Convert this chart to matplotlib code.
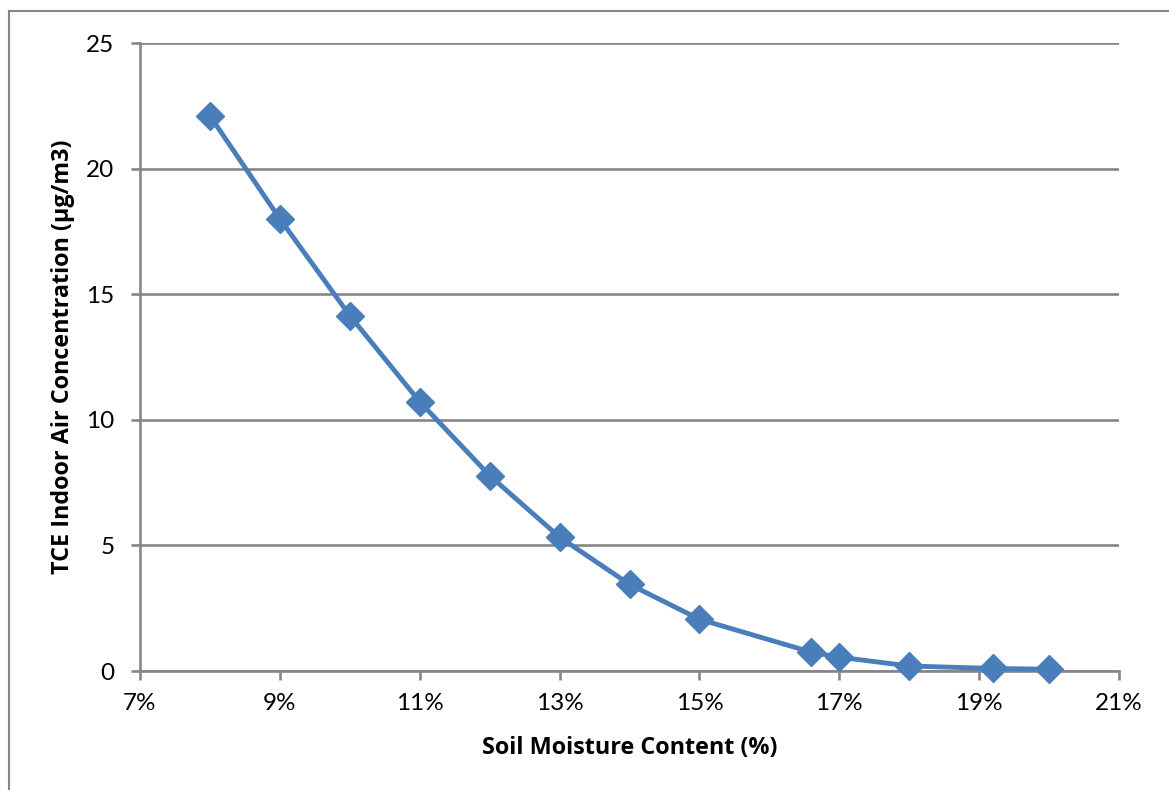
import matplotlib
matplotlib.use("Agg")
import matplotlib.pyplot as plt
from matplotlib.lines import Line2D
from matplotlib.ticker import FuncFormatter

plt.rcParams['font.family'] = ['Lato', 'DejaVu Sans']

# soil moisture (%) vs TCE indoor air concentration (ug/m3)
moisture = [8, 9, 10, 11, 12, 13, 14, 15, 16.6, 17, 18, 19.2, 20]
tce = [22.1, 18.0, 14.15, 10.72, 7.78, 5.33, 3.45, 2.06, 0.75, 0.55, 0.2, 0.1, 0.07]

x_ticks = [7, 9, 11, 13, 15, 17, 19, 21]
y_ticks = [0, 5, 10, 15, 20, 25]

gray = '#868686'
blue = '#4A7EBB'

fig = plt.figure(figsize=(11.69, 7.9), dpi=100)
ax = fig.add_axes([140 / 1169, 1 - 671 / 790, (1119 - 140) / 1169, (671 - 43) / 790])

ax.plot(moisture, tce, color=blue, lw=3.5, marker='D', markersize=14,
        markerfacecolor=blue, markeredgecolor=blue, zorder=3, clip_on=False)

ax.set_xlim(7, 21)
ax.set_ylim(0, 25)
ax.set_xticks(x_ticks)
ax.set_yticks(y_ticks)
ax.xaxis.set_major_formatter(FuncFormatter(lambda v, p: f"{v:.0f}%"))

ax.grid(axis='y', color=gray, lw=1.9)
ax.set_axisbelow(True)
for s in ['top', 'right']:
    ax.spines[s].set_visible(False)
for s in ['left', 'bottom']:
    ax.spines[s].set_color(gray)
    ax.spines[s].set_linewidth(1.9)
ax.tick_params(axis='both', direction='out', length=6.5, width=1.9, color=gray,
               labelsize=17.5, labelcolor='black')
ax.tick_params(axis='y', pad=12)
ax.tick_params(axis='x', pad=9)

lab_font = dict(family=['Open Sans', 'DejaVu Sans'], fontsize=16.8, fontweight='bold')
ax.set_xlabel("Soil Moisture Content (%)", labelpad=16, **lab_font)
ax.set_ylabel("TCE Indoor Air Concentration (µg/m3)", labelpad=8, **lab_font)

# outer chart frame (top and left edges visible)
fig.add_artist(Line2D([9 / 1169, 1], [1 - 11 / 790, 1 - 11 / 790], color=gray, lw=1.5,
                      transform=fig.transFigure))
fig.add_artist(Line2D([9 / 1169, 9 / 1169], [0, 1 - 11 / 790], color=gray, lw=1.5,
                      transform=fig.transFigure))

fig.savefig("out.png", dpi=100)
